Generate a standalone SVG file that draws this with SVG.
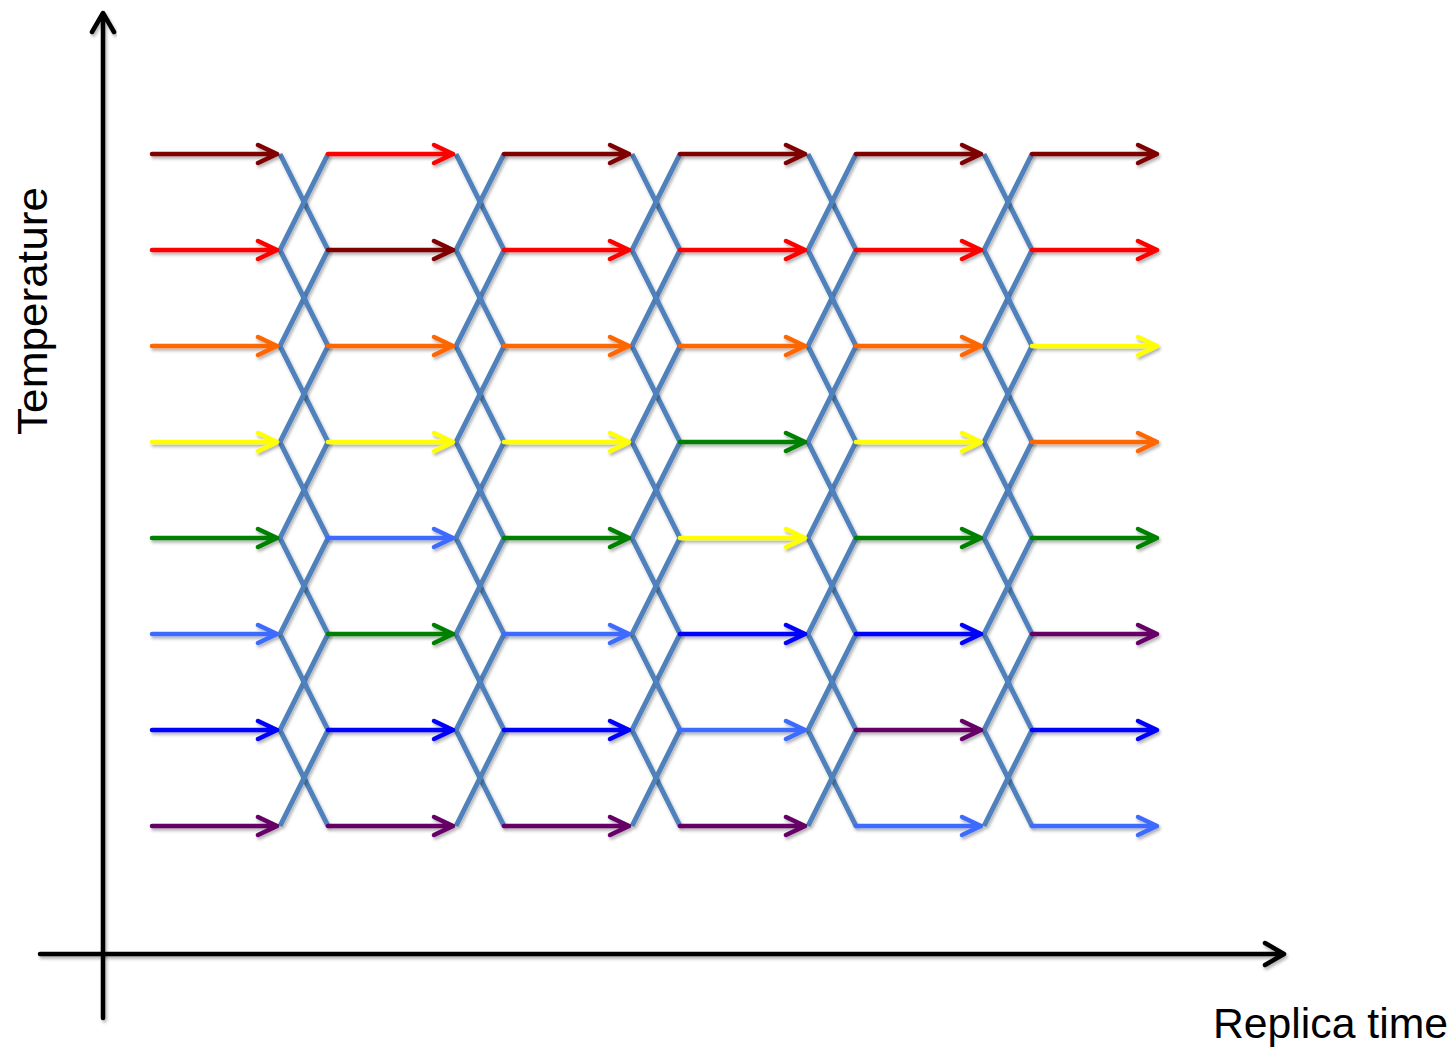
<svg xmlns="http://www.w3.org/2000/svg" width="1456" height="1052" viewBox="0 0 1456 1052">
<defs>
<filter id="sh" x="-10%" y="-50%" width="120%" height="200%">
<feDropShadow dx="1.5" dy="2.5" stdDeviation="1.5" flood-color="#000" flood-opacity="0.3"/>
</filter>
<path id="arr" d="M0 0 H125 M106 -9 L125 0 L106 9"/>
<style>
.a{fill:none;stroke-width:4.5;stroke-linecap:round;stroke-linejoin:round;filter:url(#sh)}
.dr{stroke:#7F0000}.rd{stroke:#FF0000}.or{stroke:#FF6600}.ye{stroke:#FFFF00}
.gr{stroke:#008000}.lb{stroke:#3D6BFF}.bl{stroke:#0000FF}.pu{stroke:#660066}
.z{fill:none;stroke:#4F81BD;stroke-width:5;stroke-linejoin:miter;filter:url(#sh)}
.ax{fill:none;stroke:#000;stroke-width:4.5;stroke-linecap:round;stroke-linejoin:round;filter:url(#sh)}
.t{font-family:"Liberation Sans",Arial,sans-serif;font-size:42px;fill:#000}
</style>
</defs>
<rect width="1456" height="1052" fill="#fff"/>
<g id="axes">
<path class="ax" d="M103 1018 V14 M92 32 L103 13 L114 32"/>
<path class="ax" d="M40 954 H1284 M1265 943 L1284 954 L1265 965"/>
</g>
<g id="connectors">
<polyline class="z" points="280,154 328,250 280,346 328,442 280,538 328,634 280,730 328,826"/>
<polyline class="z" points="328,154 280,250 328,346 280,442 328,538 280,634 328,730 280,826"/>
<polyline class="z" points="456,154 504,250 456,346 504,442 456,538 504,634 456,730 504,826"/>
<polyline class="z" points="504,154 456,250 504,346 456,442 504,538 456,634 504,730 456,826"/>
<polyline class="z" points="632,154 680,250 632,346 680,442 632,538 680,634 632,730 680,826"/>
<polyline class="z" points="680,154 632,250 680,346 632,442 680,538 632,634 680,730 632,826"/>
<polyline class="z" points="808,154 856,250 808,346 856,442 808,538 856,634 808,730 856,826"/>
<polyline class="z" points="856,154 808,250 856,346 808,442 856,538 808,634 856,730 808,826"/>
<polyline class="z" points="984,154 1032,250 984,346 1032,442 984,538 1032,634 984,730 1032,826"/>
<polyline class="z" points="1032,154 984,250 1032,346 984,442 1032,538 984,634 1032,730 984,826"/>
</g>
<g id="col1">
<use href="#arr" class="a dr" x="152" y="154"/>
<use href="#arr" class="a rd" x="152" y="250"/>
<use href="#arr" class="a or" x="152" y="346"/>
<use href="#arr" class="a ye" x="152" y="442"/>
<use href="#arr" class="a gr" x="152" y="538"/>
<use href="#arr" class="a lb" x="152" y="634"/>
<use href="#arr" class="a bl" x="152" y="730"/>
<use href="#arr" class="a pu" x="152" y="826"/>
</g>
<g id="col2">
<use href="#arr" class="a rd" x="328" y="154"/>
<use href="#arr" class="a dr" x="328" y="250"/>
<use href="#arr" class="a or" x="328" y="346"/>
<use href="#arr" class="a ye" x="328" y="442"/>
<use href="#arr" class="a lb" x="328" y="538"/>
<use href="#arr" class="a gr" x="328" y="634"/>
<use href="#arr" class="a bl" x="328" y="730"/>
<use href="#arr" class="a pu" x="328" y="826"/>
</g>
<g id="col3">
<use href="#arr" class="a dr" x="504" y="154"/>
<use href="#arr" class="a rd" x="504" y="250"/>
<use href="#arr" class="a or" x="504" y="346"/>
<use href="#arr" class="a ye" x="504" y="442"/>
<use href="#arr" class="a gr" x="504" y="538"/>
<use href="#arr" class="a lb" x="504" y="634"/>
<use href="#arr" class="a bl" x="504" y="730"/>
<use href="#arr" class="a pu" x="504" y="826"/>
</g>
<g id="col4">
<use href="#arr" class="a dr" x="680" y="154"/>
<use href="#arr" class="a rd" x="680" y="250"/>
<use href="#arr" class="a or" x="680" y="346"/>
<use href="#arr" class="a gr" x="680" y="442"/>
<use href="#arr" class="a ye" x="680" y="538"/>
<use href="#arr" class="a bl" x="680" y="634"/>
<use href="#arr" class="a lb" x="680" y="730"/>
<use href="#arr" class="a pu" x="680" y="826"/>
</g>
<g id="col5">
<use href="#arr" class="a dr" x="856" y="154"/>
<use href="#arr" class="a rd" x="856" y="250"/>
<use href="#arr" class="a or" x="856" y="346"/>
<use href="#arr" class="a ye" x="856" y="442"/>
<use href="#arr" class="a gr" x="856" y="538"/>
<use href="#arr" class="a bl" x="856" y="634"/>
<use href="#arr" class="a pu" x="856" y="730"/>
<use href="#arr" class="a lb" x="856" y="826"/>
</g>
<g id="col6">
<use href="#arr" class="a dr" x="1032" y="154"/>
<use href="#arr" class="a rd" x="1032" y="250"/>
<use href="#arr" class="a ye" x="1032" y="346"/>
<use href="#arr" class="a or" x="1032" y="442"/>
<use href="#arr" class="a gr" x="1032" y="538"/>
<use href="#arr" class="a pu" x="1032" y="634"/>
<use href="#arr" class="a bl" x="1032" y="730"/>
<use href="#arr" class="a lb" x="1032" y="826"/>
</g>
<g id="label-temperature">
<text class="t" transform="translate(47,311) rotate(-90)" text-anchor="middle" textLength="248" lengthAdjust="spacingAndGlyphs">Temperature</text>
</g>
<g id="label-time">
<text class="t" x="1213" y="1038" textLength="235" lengthAdjust="spacingAndGlyphs">Replica time</text>
</g>
</svg>
